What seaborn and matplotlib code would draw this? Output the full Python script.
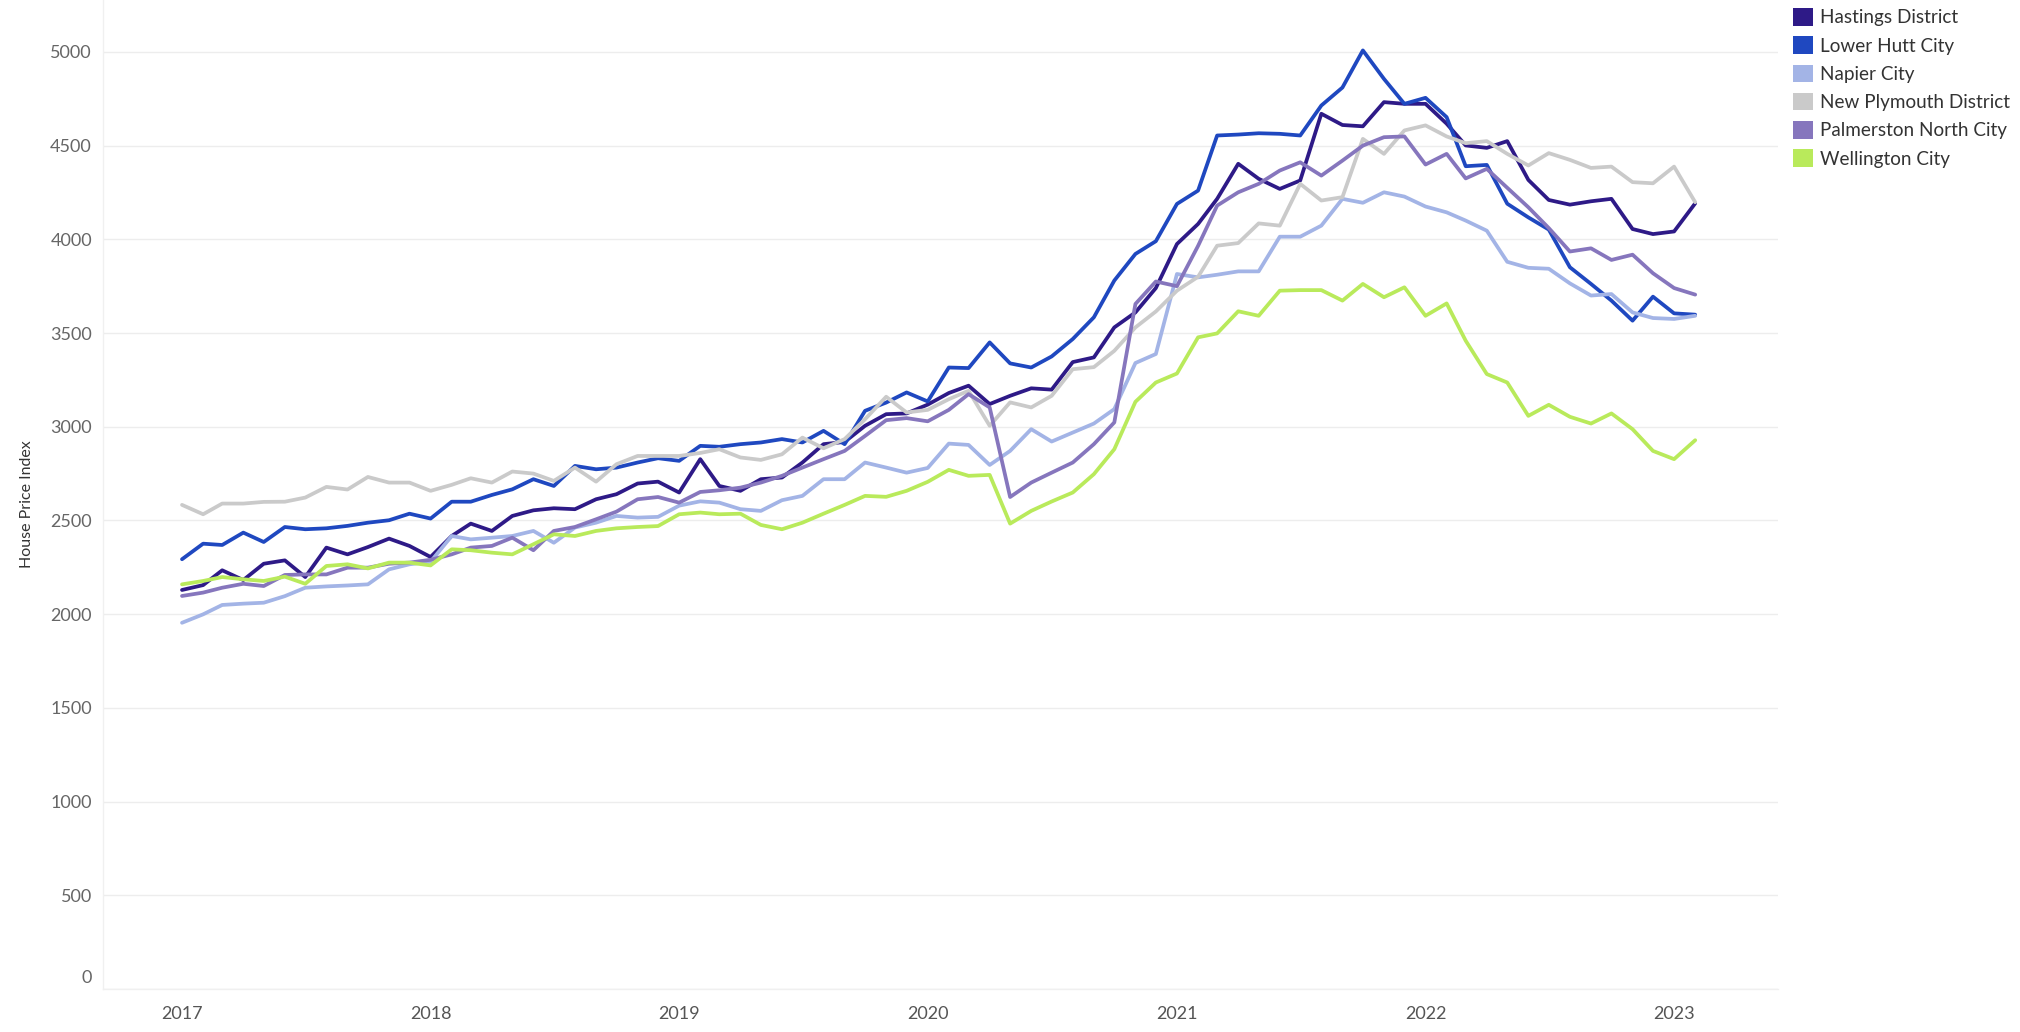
import pandas as pd
import matplotlib
matplotlib.use("Agg")
import matplotlib.pyplot as plt
import matplotlib.dates as mdates
from matplotlib.patches import Patch
from matplotlib.transforms import ScaledTranslation
import seaborn as sns

# monthly house price index, Jan 2017 - Feb 2023
months = pd.date_range("2017-01-01", periods=74, freq="MS")

hastings = [2129, 2155, 2234, 2182, 2269, 2287, 2198, 2355, 2319, 2358, 2403, 2364, 2305,
            2417, 2483, 2444, 2524, 2554, 2565, 2560, 2613, 2640, 2697, 2707, 2649, 2827,
            2684, 2658, 2720, 2729, 2809, 2907, 2919, 3005, 3067, 3071, 3118, 3180, 3219, 3121,
            3165, 3205, 3198, 3345, 3370, 3530, 3610, 3740, 3975, 4082, 4216, 4403, 4323, 4269,
            4314, 4670, 4610, 4603, 4732, 4723, 4723, 4617, 4501, 4488, 4524, 4317, 4210, 4185,
            4203, 4216, 4055, 4028, 4042, 4192]
lower_hutt = [2293, 2376, 2369, 2435, 2385, 2465, 2453, 2458, 2471, 2488, 2501, 2536, 2510,
              2600, 2600, 2636, 2666, 2720, 2684, 2791, 2773, 2782, 2809, 2832, 2818, 2898,
              2893, 2907, 2916, 2934, 2916, 2978, 2907, 3085, 3129, 3183, 3135, 3316, 3313, 3450,
              3338, 3316, 3375, 3468, 3584, 3780, 3922, 3990, 4189, 4260, 4554, 4559, 4566, 4563,
              4554, 4714, 4810, 5008, 4856, 4723, 4755, 4652, 4390, 4397, 4190, 4117, 4052, 3851,
              3762, 3673, 3566, 3694, 3605, 3598]
napier = [1954, 1999, 2049, 2056, 2061, 2096, 2141, 2148, 2153, 2159, 2239, 2266, 2280,
          2417, 2399, 2408, 2417, 2444, 2381, 2462, 2488, 2524, 2515, 2519, 2579, 2602,
          2595, 2560, 2551, 2608, 2631, 2720, 2720, 2809, 2782, 2755, 2780, 2910, 2903, 2796,
          2871, 2987, 2921, 2969, 3017, 3094, 3340, 3388, 3815, 3797, 3811, 3829, 3829, 4014,
          4014, 4073, 4216, 4195, 4251, 4228, 4175, 4144, 4100, 4046, 3880, 3848, 3843, 3765,
          3700, 3708, 3610, 3580, 3575, 3592]
new_plymouth = [2583, 2533, 2590, 2590, 2599, 2600, 2622, 2679, 2665, 2732, 2702, 2702, 2658,
                2690, 2725, 2702, 2761, 2750, 2711, 2782, 2707, 2800, 2844, 2844, 2844, 2860,
                2880, 2836, 2823, 2853, 2942, 2885, 2934, 3040, 3160, 3076, 3090, 3147, 3192, 3005,
                3130, 3103, 3165, 3307, 3318, 3405, 3530, 3615, 3726, 3800, 3966, 3980, 4085, 4073,
                4296, 4207, 4225, 4536, 4456, 4581, 4608, 4549, 4513, 4524, 4456, 4394, 4460, 4424,
                4381, 4388, 4305, 4299, 4388, 4198]
palmerston = [2097, 2115, 2141, 2162, 2150, 2209, 2212, 2212, 2248, 2248, 2269, 2275, 2290,
              2319, 2355, 2364, 2408, 2341, 2444, 2465, 2506, 2547, 2613, 2625, 2595, 2652,
              2661, 2675, 2702, 2738, 2782, 2827, 2871, 2951, 3035, 3046, 3029, 3090, 3174, 3103,
              2625, 2702, 2755, 2809, 2907, 3023, 3655, 3775, 3750, 3965, 4180, 4251, 4296, 4367,
              4411, 4340, 4420, 4500, 4545, 4549, 4399, 4456, 4325, 4376, 4275, 4171, 4060, 3935,
              3952, 3890, 3918, 3819, 3740, 3705]
wellington = [2159, 2177, 2198, 2186, 2177, 2200, 2162, 2257, 2266, 2244, 2275, 2275, 2260,
              2346, 2341, 2328, 2319, 2373, 2426, 2417, 2444, 2458, 2465, 2470, 2533, 2542,
              2533, 2536, 2476, 2453, 2488, 2536, 2583, 2631, 2626, 2658, 2706, 2770, 2738, 2743,
              2483, 2551, 2601, 2649, 2747, 2880, 3133, 3236, 3284, 3477, 3498, 3616, 3592, 3726,
              3729, 3729, 3673, 3762, 3691, 3744, 3592, 3658, 3459, 3281, 3236, 3058, 3117, 3053,
              3017, 3071, 2987, 2871, 2827, 2928]

regions = ["Hastings District", "Lower Hutt City", "Napier City",
           "New Plymouth District", "Palmerston North City", "Wellington City"]
colors = ["#2e1a87", "#1f48c0", "#a3b4e6", "#cacaca", "#8676bd", "#b9ea5b"]
series = [hastings, lower_hutt, napier, new_plymouth, palmerston, wellington]

df = pd.concat([pd.DataFrame({"Date": months, "Region": r, "HPI": v})
                for r, v in zip(regions, series)], ignore_index=True)
palette = dict(zip(regions, colors))

sns.set_theme(style="white")
plt.rcParams["font.family"] = ["Lato", "DejaVu Sans"]

fig = plt.figure(figsize=(20.2, 10.32), dpi=100)
ax = fig.add_axes([0.051, 0.0417, 0.829, 0.9583])

sns.lineplot(data=df, x="Date", y="HPI", hue="Region", palette=palette,
             linewidth=2.7, legend=False, ax=ax)

ax.set_ylim(0, 5277)
ax.set_xlim(pd.Timestamp("2016-09-07"), pd.Timestamp("2023-06-02"))
ax.set_yticks(range(0, 5001, 500))
ax.xaxis.set_major_locator(mdates.YearLocator())
ax.xaxis.set_major_formatter(mdates.DateFormatter("%Y"))

ax.grid(axis="y", color="#ededed", linewidth=1)
ax.grid(axis="x", visible=False)
ax.set_axisbelow(True)
for side in ["top", "right"]:
    ax.spines[side].set_visible(False)
for side in ["left", "bottom"]:
    ax.spines[side].set_color("#f0f0f0")
    ax.spines[side].set_linewidth(1)

ax.tick_params(axis="y", length=0, pad=8, labelsize=13, labelcolor="#666666")
ax.tick_params(axis="x", length=0, pad=12, labelsize=13, labelcolor="#555555")

# the "0" label sits a little above its gridline in the original
fig.canvas.draw()
zero_lbl = ax.get_yticklabels()[0]
zero_lbl.set_transform(zero_lbl.get_transform() + ScaledTranslation(0, 0.12, fig.dpi_scale_trans))

ax.set_xlabel("")
ax.set_ylabel("House Price Index", fontsize=11.5, color="#333333")
ax.yaxis.set_label_coords(-0.041, 0.49)

handles = [Patch(facecolor=c, edgecolor="none", label=r) for r, c in zip(regions, colors)]
fig.legend(handles=handles, loc="upper left", bbox_to_anchor=(1793 / 2020, 0.992),
           frameon=False, fontsize=13.6, handlelength=1.05, handleheight=1.05,
           handletextpad=0.4, labelspacing=0.53, borderpad=0, borderaxespad=0,
           labelcolor="#333333")

fig.savefig("out.png", dpi=100)
